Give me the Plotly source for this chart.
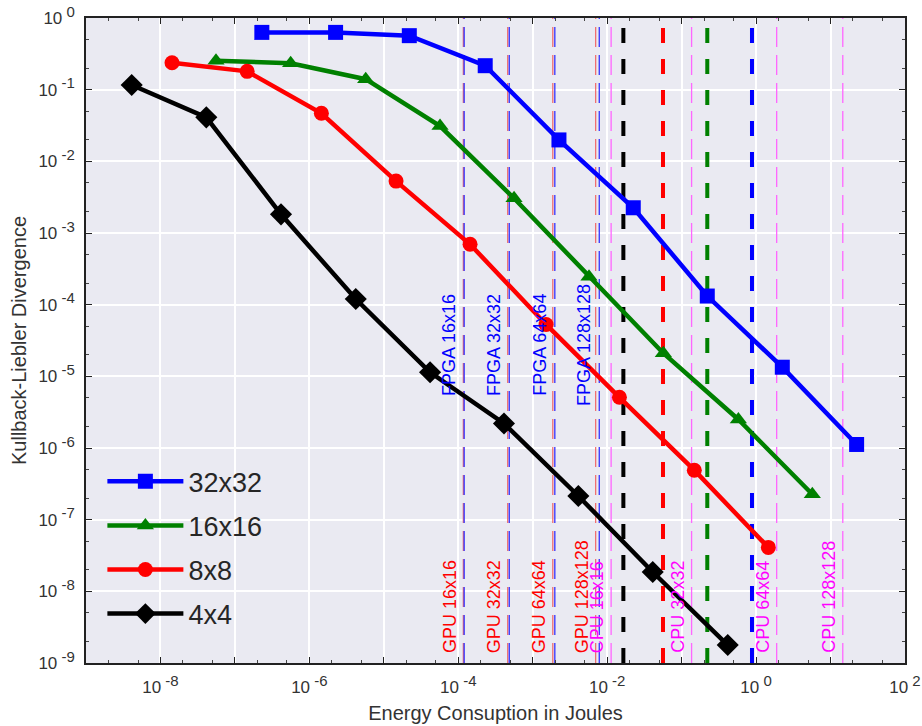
import math
import plotly.graph_objects as go

# ---------------- data ----------------
series_names = ["32x32", "16x16", "8x8", "4x4"]
series_colors = ["#0000FF", "#008000", "#FF0000", "#000000"]
series_symbols = ["square", "triangle-up", "circle", "diamond"]

energy_32 = [2.3e-7, 2.25e-6, 2.2e-5, 2.3e-4, 2.25e-3, 2.24e-2, 0.221, 2.25, 22.4]
kl_32 = [0.63, 0.63, 0.567, 0.216, 0.0199, 2.25e-3, 1.32e-4, 1.34e-5, 1.12e-6]

energy_16 = [5.57e-8, 5.61e-7, 5.71e-6, 5.69e-5, 5.61e-4, 5.7e-3, 5.68e-2, 0.578, 5.69]
kl_16 = [0.254, 0.233, 0.14, 0.0311, 3.05e-3, 2.45e-4, 2.1e-5, 2.5e-6, 2.26e-7]

energy_8 = [1.43e-8, 1.46e-7, 1.45e-6, 1.46e-5, 1.44e-4, 1.51e-3, 1.46e-2, 0.148, 1.46]
kl_8 = [0.238, 0.18, 0.0468, 5.3e-3, 6.96e-4, 5.3e-5, 5.1e-6, 4.9e-7, 4.1e-8]

energy_4 = [4.11e-9, 4.13e-8, 4.16e-7, 4.2e-6, 4.18e-5, 4.11e-4, 4.1e-3, 4.09e-2, 0.416]
kl_4 = [0.116, 0.0411, 1.82e-3, 1.2e-4, 1.14e-5, 2.2e-6, 2.14e-7, 1.86e-8, 1.78e-9]

series_x = [energy_32, energy_16, energy_8, energy_4]
series_y = [kl_32, kl_16, kl_8, kl_4]

fpga_labels = ["FPGA 16x16", "FPGA 32x32", "FPGA 64x64", "FPGA 128x128"]
fpga_energy = [1.2e-4, 4.84e-4, 1.98e-3, 7.83e-3]
gpu_labels = ["GPU 16x16", "GPU 32x32", "GPU 64x64", "GPU 128x128"]
gpu_energy = [1.17e-4, 4.61e-4, 1.86e-3, 7.0e-3]
cpu_labels = ["CPU 16x16", "CPU 32x32", "CPU 64x64", "CPU 128x128"]
cpu_energy = [1.13e-2, 0.136, 1.89, 14.6]

thick_energy = [0.0165, 0.0562, 0.221, 0.881]
thick_colors = ["#000000", "#FF0000", "#008000", "#0000FF"]

fpga_label_y = 2.75e-5     # centre of the FPGA labels
bottom_label_y = 1.29e-9   # foot of the GPU / CPU labels

y_bottom, y_top = 1e-9, 1.0
x_exps = list(range(-9, 3))
y_exps = list(range(-9, 1))


def pow_label(e):
    return "10<sup><span style='font-size:15px'> %d</span></sup>" % e


x_tickvals = [10.0 ** e for e in x_exps]
x_ticktext = ["" if e % 2 else pow_label(e) for e in x_exps]
y_tickvals = [10.0 ** e for e in y_exps]
y_ticktext = [pow_label(e) for e in y_exps]

FONT = "Liberation Sans, Arial, sans-serif"

fig = go.Figure()


def vline(x, color, width, dash):
    fig.add_trace(go.Scatter(x=[x, x], y=[y_bottom, y_top], mode="lines",
                             line=dict(color=color, width=width, dash=dash),
                             showlegend=False, hoverinfo="skip"))


for x in gpu_energy:
    vline(x, "rgba(240,90,90,0.85)", 1.3, "20px,8px")
for x in fpga_energy:
    vline(x, "#3333FF", 1.3, "20px,8px")
for x in cpu_energy:
    vline(x, "#FF66FF", 1.3, "20px,8px")
for x, c in zip(thick_energy, thick_colors):
    vline(x, c, 4, "15px,16px")

for i, name in enumerate(series_names):
    fig.add_trace(go.Scatter(
        x=series_x[i], y=series_y[i], mode="lines+markers", name=name,
        legendgroup=name,
        line=dict(color=series_colors[i], width=4.5),
        marker=dict(symbol=series_symbols[i], size=15 if i != 3 else 17,
                    color=series_colors[i]),
    ))

annotations = []
for lab, x in zip(fpga_labels, fpga_energy):
    annotations.append(dict(x=math.log10(x), y=math.log10(fpga_label_y),
                            xref="x", yref="y", text=lab,
                            textangle=-90, showarrow=False, xanchor="center",
                            yanchor="middle", xshift=-15,
                            font=dict(family=FONT, size=18, color="#0000FF")))
for lab, x in zip(gpu_labels, gpu_energy):
    annotations.append(dict(x=math.log10(x), y=math.log10(bottom_label_y),
                            xref="x", yref="y", text=lab,
                            textangle=-90, showarrow=False, xanchor="center",
                            yanchor="bottom", xshift=-14,
                            font=dict(family=FONT, size=18, color="#FF0000")))
for lab, x in zip(cpu_labels, cpu_energy):
    annotations.append(dict(x=math.log10(x), y=math.log10(bottom_label_y),
                            xref="x", yref="y", text=lab,
                            textangle=-90, showarrow=False, xanchor="center",
                            yanchor="bottom", xshift=-14,
                            font=dict(family=FONT, size=18, color="#FF00FF")))

axis_common = dict(
    type="log", showline=True, linecolor="#222222", linewidth=1.5, mirror="ticks",
    ticks="inside", ticklen=6, tickcolor="#222222", showgrid=True,
    gridcolor="#FFFFFF", gridwidth=1.5, zeroline=False, automargin=False,
    tickfont=dict(family=FONT, size=17, color="#333333"),
    minor=dict(ticks="inside", ticklen=3, tickcolor="#444444", showgrid=False),
)

fig.update_layout(
    width=922, height=726,
    margin=dict(l=86, r=17, t=18, b=63),
    paper_bgcolor="#FFFFFF", plot_bgcolor="#EAEAF2",
    font=dict(family=FONT, color="#333333"),
    xaxis=dict(axis_common, range=[-9, 2], tickmode="array",
               tickvals=x_tickvals, ticktext=x_ticktext, ticklabelstandoff=8,
               title=dict(text="Energy Consuption in Joules", standoff=10,
                          font=dict(family=FONT, size=20, color="#333333"))),
    yaxis=dict(axis_common, range=[-9, 0], tickmode="array",
               tickvals=y_tickvals, ticktext=y_ticktext, ticklabelstandoff=6,
               title=dict(text="Kullback-Liebler Divergence", standoff=6,
                          font=dict(family=FONT, size=20, color="#333333"))),
    legend=dict(x=0.02, y=0.319, xanchor="left", yanchor="top",
                bgcolor="rgba(0,0,0,0)", borderwidth=0, tracegroupgap=6,
                itemwidth=76,
                font=dict(family=FONT, size=27, color="#262626")),
    annotations=annotations,
    showlegend=True,
)

fig.write_html("out.html")
